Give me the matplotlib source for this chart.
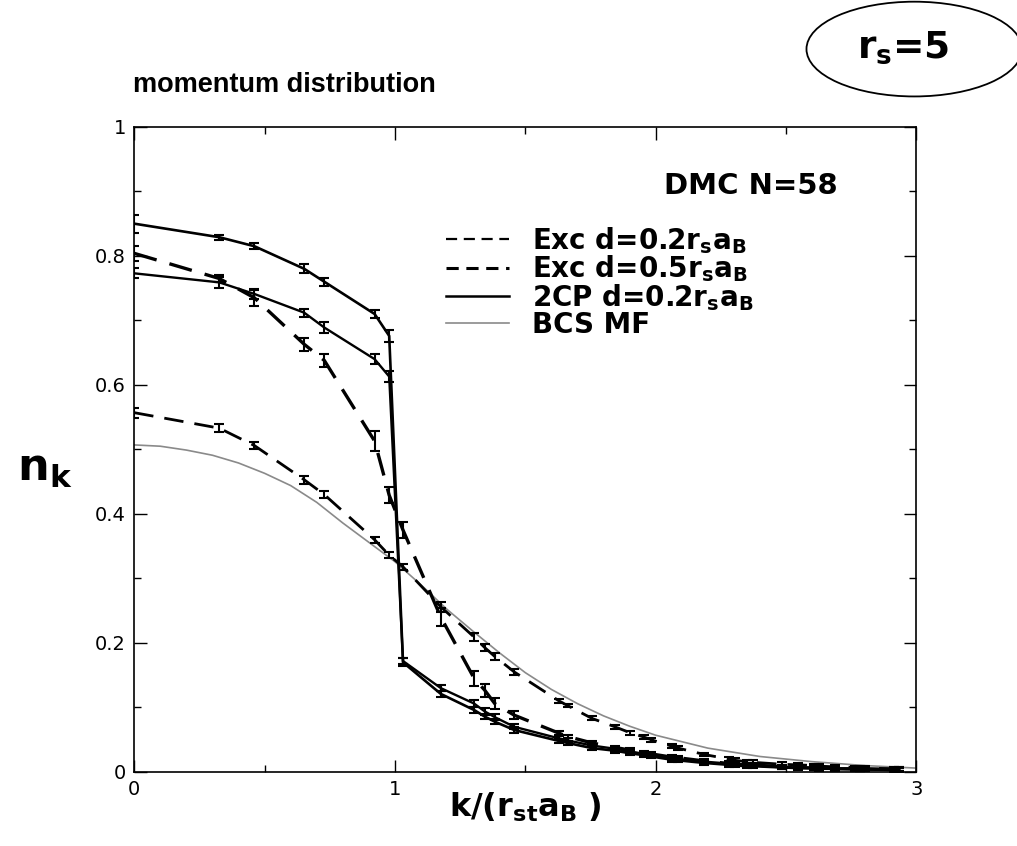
import numpy as np
import matplotlib
matplotlib.use("Agg")
import matplotlib.pyplot as plt
from matplotlib.patches import Ellipse
from matplotlib.lines import Line2D
from matplotlib.ticker import MultipleLocator, FuncFormatter

plt.rcParams['font.family'] = ['DejaVu Sans']
plt.rcParams['mathtext.fontset'] = 'dejavusans'

# k grid (shell momenta of the N=58 simulation cell)
k = [0.0, 0.326, 0.461, 0.652, 0.729, 0.922, 0.978, 1.031, 1.176, 1.304,
     1.344, 1.383, 1.458, 1.630, 1.662, 1.756, 1.844, 1.901, 1.956, 1.983,
     2.062, 2.087, 2.187, 2.282, 2.305, 2.351, 2.373, 2.483, 2.546, 2.608,
     2.628, 2.688, 2.766, 2.785, 2.804, 2.916, 2.934]

# 2CP d=0.2 rs aB
n_2cp = [0.850, 0.829, 0.815, 0.780, 0.760, 0.710, 0.676, 0.170, 0.121, 0.096,
         0.086, 0.078, 0.065, 0.048, 0.045, 0.037, 0.033, 0.029, 0.026, 0.024,
         0.019, 0.018, 0.014, 0.011, 0.010, 0.009, 0.009, 0.007, 0.006, 0.006,
         0.005, 0.005, 0.004, 0.004, 0.004, 0.003, 0.003]
# second solid curve (no legend entry)
n_solid2 = [0.773, 0.759, 0.741, 0.712, 0.689, 0.640, 0.613, 0.172, 0.130, 0.106,
            0.094, 0.085, 0.070, 0.052, 0.049, 0.041, 0.036, 0.032, 0.028, 0.026,
            0.021, 0.020, 0.016, 0.013, 0.012, 0.011, 0.010, 0.008, 0.007, 0.006,
            0.006, 0.005, 0.005, 0.004, 0.004, 0.003, 0.003]
# Exc d=0.5 rs aB
n_exc05 = [0.804, 0.765, 0.735, 0.663, 0.638, 0.513, 0.429, 0.375, 0.240, 0.145,
           0.127, 0.106, 0.088, 0.060, 0.055, 0.045, 0.038, 0.034, 0.030, 0.028,
           0.023, 0.022, 0.017, 0.013, 0.012, 0.011, 0.011, 0.008, 0.007, 0.006,
           0.006, 0.005, 0.005, 0.005, 0.005, 0.004, 0.004]
# Exc d=0.2 rs aB
n_exc02 = [0.557, 0.533, 0.506, 0.453, 0.430, 0.360, 0.336, 0.318, 0.256, 0.209,
           0.193, 0.179, 0.155, 0.110, 0.103, 0.083, 0.070, 0.061, 0.054, 0.050,
           0.040, 0.037, 0.027, 0.020, 0.018, 0.016, 0.015, 0.012, 0.011, 0.010,
           0.009, 0.008, 0.007, 0.007, 0.006, 0.005, 0.005]

# error bars on the first 13 shells, small constant beyond
err_2cp = [0.014, 0.004, 0.005, 0.007, 0.006, 0.006, 0.009, 0.006, 0.005, 0.004, 0.004, 0.004, 0.004]
err_solid2 = [0.008, 0.008, 0.008, 0.006, 0.008, 0.008, 0.008, 0.005, 0.005, 0.005, 0.005, 0.005, 0.004]
err_exc05 = [0.012, 0.006, 0.012, 0.010, 0.010, 0.015, 0.012, 0.012, 0.014, 0.012, 0.010, 0.008, 0.006]
err_exc02 = [0.008, 0.006, 0.005, 0.006, 0.006, 0.005, 0.005, 0.005, 0.008, 0.006, 0.006, 0.006, 0.005]
err_tail = 0.003

# BCS mean field curve
k_bcs = [0.0, 0.1, 0.2, 0.3, 0.4, 0.5, 0.6, 0.7, 0.8, 0.9, 1.0, 1.1, 1.2, 1.3,
         1.4, 1.5, 1.6, 1.7, 1.8, 1.9, 2.0, 2.2, 2.4, 2.6, 2.8, 3.0]
n_bcs = [0.507, 0.505, 0.499, 0.491, 0.479, 0.463, 0.444, 0.418, 0.386, 0.356,
         0.326, 0.290, 0.252, 0.218, 0.185, 0.154, 0.128, 0.106, 0.087, 0.071,
         0.057, 0.037, 0.024, 0.016, 0.010, 0.006]

labels = [r'Exc d=0.2r$_\mathbf{s}$a$_\mathbf{B}$',
          r'Exc d=0.5r$_\mathbf{s}$a$_\mathbf{B}$',
          r'2CP d=0.2r$_\mathbf{s}$a$_\mathbf{B}$',
          'BCS MF']


def full_err(e):
    return list(e) + [err_tail] * (len(k) - len(e))


fig = plt.figure(figsize=(10.17, 8.46), dpi=100)
ax = fig.add_axes([0.132, 0.0875, 0.769, 0.7625])

bcs_color = '#8a8a8a'
ax.plot(k_bcs, n_bcs, color=bcs_color, lw=1.2, zorder=2)

eb = dict(color='black', capsize=3.5, elinewidth=1.5, capthick=1.5, zorder=3)
ax.errorbar(k, n_exc02, yerr=full_err(err_exc02), lw=2.0, dashes=(7, 4), **eb)
ax.errorbar(k, n_exc05, yerr=full_err(err_exc05), lw=2.4, dashes=(7, 4), **eb)
ax.errorbar(k, n_2cp, yerr=full_err(err_2cp), lw=1.9, **eb)
ax.errorbar(k, n_solid2, yerr=full_err(err_solid2), lw=1.7, **eb)

ax.set_xlim(0, 3)
ax.set_ylim(0, 1)
ax.xaxis.set_major_locator(MultipleLocator(1))
ax.xaxis.set_minor_locator(MultipleLocator(0.5))
ax.yaxis.set_major_locator(MultipleLocator(0.2))
ax.yaxis.set_minor_locator(MultipleLocator(0.1))
ax.xaxis.set_major_formatter(FuncFormatter(lambda v, p: '%g' % v))
ax.yaxis.set_major_formatter(FuncFormatter(lambda v, p: '%g' % v))
ax.tick_params(which='both', direction='in', top=True, right=True, labelsize=14, width=1.0)
ax.tick_params(which='major', length=9, pad=6)
ax.tick_params(which='minor', length=5)
for s in ax.spines.values():
    s.set_linewidth(1.2)

ax.set_xlabel(r'$\mathbf{k/(r_{st}a_B\ )}$', fontsize=23, va='center')
ax.xaxis.set_label_coords(0.5, -0.054)
ax.set_ylabel(r'$\mathbf{n_k}$', fontsize=32, rotation=0, va='center', ha='center')
ax.yaxis.set_label_coords(-0.114, 0.47)

handles = [Line2D([], [], color='black', lw=1.6, dashes=(5, 3)),
           Line2D([], [], color='black', lw=2.2, dashes=(4, 2.5)),
           Line2D([], [], color='black', lw=1.8),
           Line2D([], [], color=bcs_color, lw=1.2)]
leg = ax.legend(handles, labels, loc='upper left',
                bbox_to_anchor=(0.398, 0.848), frameon=False,
                prop={'size': 20, 'weight': 'bold'},
                handlelength=2.3, handletextpad=0.8, labelspacing=-0.08,
                borderpad=0, borderaxespad=0)

ax.text(0.678, 0.908, 'DMC N=58', transform=ax.transAxes, fontsize=21,
        fontweight='bold', ha='left', va='center')

fig.text(0.131, 0.899, 'momentum distribution', fontsize=19.5, fontweight='bold',
         family=['Liberation Sans', 'DejaVu Sans'],
         ha='left', va='center')

ell = Ellipse((0.899, 0.942), 0.212, 0.112, transform=fig.transFigure,
              fill=False, lw=1.3, color='black')
fig.add_artist(ell)
fig.text(0.888, 0.944, r'$\mathbf{r_s}$=5', fontsize=27, fontweight='bold',
         ha='center', va='center')

fig.savefig('out.png', dpi=100)
